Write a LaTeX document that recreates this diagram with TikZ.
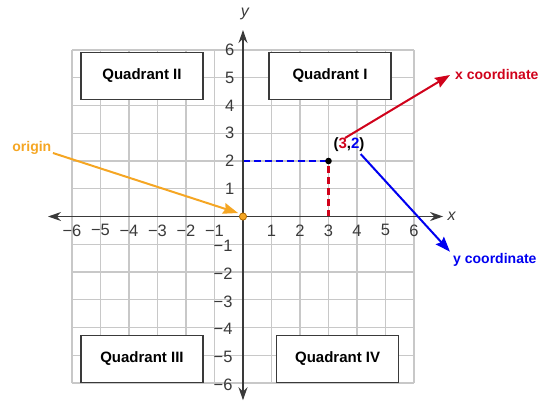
\documentclass[tikz,border=0pt]{standalone}
\usepackage{fontspec}
\setmainfont{Liberation Sans}
\usetikzlibrary{arrows.meta}
\definecolor{gridgray}{HTML}{C8C8C8}
\definecolor{axisgray}{HTML}{3A3A3A}
\definecolor{cred}{HTML}{D0021B}
\definecolor{cblue}{HTML}{0000F0}
\definecolor{corange}{HTML}{F5A623}
\definecolor{odark}{HTML}{B06A00}
\begin{document}
\begin{tikzpicture}[x=28.5pt,y=27.75pt,
  gridline/.style={draw=gridgray,line width=1.4pt},
  axisline/.style={draw=axisgray,line width=1.4pt,{Stealth[length=13pt,width=9pt]}-{Stealth[length=13pt,width=9pt]}},
  ticklab/.style={font=\fontsize{16.5}{16.5}\selectfont,text=axisgray,inner sep=0pt},
  quadbox/.style={draw=axisgray,fill=white,line width=1.1pt,minimum width=122pt,minimum height=47pt,font=\fontsize{15}{15}\selectfont\bfseries},
  callout/.style={line width=2pt,-{Stealth[length=15pt,width=11pt,inset=2pt]}},
  calllab/.style={font=\fontsize{14}{14}\selectfont\bfseries,inner sep=0pt}]
\useasboundingbox (-8.526,-6.865) rectangle (10.421,7.802);
% grid
\foreach \i in {-6,...,6} {
  \draw[gridline] (\i,-6) -- (\i,6);
  \draw[gridline] (-6,\i) -- (6,\i);
}
% dashed guides
\coordinate (y2) at (0,2);
\coordinate (x3) at (3,0);
\coordinate (P) at (3,2);
\draw[cblue,line width=2.6pt,dash pattern=on 7pt off 4pt] (y2) -- (P);
\draw[cred,line width=2.6pt,dash pattern=on 7pt off 4pt] (x3) -- (P);
% axes
\coordinate (xl) at (-6.84,0);
\coordinate (xr) at (7.02,0);
\coordinate (yb) at (0,-6.62);
\coordinate (yt) at (0,6.72);
\draw[axisline] (xl) -- (xr);
\draw[axisline] (yb) -- (yt);
\node[font=\fontsize{16}{16}\selectfont\itshape,text=axisgray] (xlabel) at (7.32,0.02) {x};
\node[font=\fontsize{16}{16}\selectfont\itshape,text=axisgray] (ylabel) at (0.07,7.3) {y};
% tick labels
\foreach \i in {1,...,6} {
  \node[ticklab] (xp\i) at (\i,-0.5) {\i};
  \node[ticklab] (xn\i) at (-\i,-0.5) {−\i};
  \node[ticklab,anchor=east] (yp\i) at (-0.3,\i) {\i};
  \node[ticklab,anchor=east] (yn\i) at (-0.36,-\i-0.06) {−\i};
}
% quadrant boxes
\node[quadbox] (q2) at (-3.544,5.063) {Quadrant II};
\node[quadbox] (q1) at (3.053,5.063) {Quadrant I};
\node[quadbox] (q3) at (-3.544,-5.135) {Quadrant III};
\node[quadbox] (q4) at (3.32,-5.135) {Quadrant IV};
% point
\fill[black] (P) circle (3.3pt);
\node[font=\fontsize{15}{15}\selectfont\bfseries,inner sep=0pt] (plab) at (3.72,2.6) {(\textcolor{cred}{3},\textcolor{cblue}{2})};
% callouts
\coordinate (rs) at (3.579,2.829);
\coordinate (rt) at (7.263,5.099);
\node[calllab,text=cred,anchor=west] (xc) at (7.44,5.12) {x coordinate};
\draw[callout,cred] (rs) -- (rt);
\coordinate (bs) at (4.13,2.25);
\coordinate (bt) at (7.263,-1.268);
\node[calllab,text=cblue,anchor=west] (yc) at (7.37,-1.57) {y coordinate};
\draw[callout,cblue] (bs) -- (bt);
\coordinate (os) at (-6.667,2.288);
\coordinate (ot) at (-0.175,0.126);
\node[calllab,text=corange,anchor=east] (ol) at (-6.72,2.47) {origin};
\draw[callout,corange] (os) -- (ot);
\coordinate (O) at (0,0);
\filldraw[fill=corange,draw=odark,line width=0.8pt] (O) circle (3.6pt);
\end{tikzpicture}
\end{document}
